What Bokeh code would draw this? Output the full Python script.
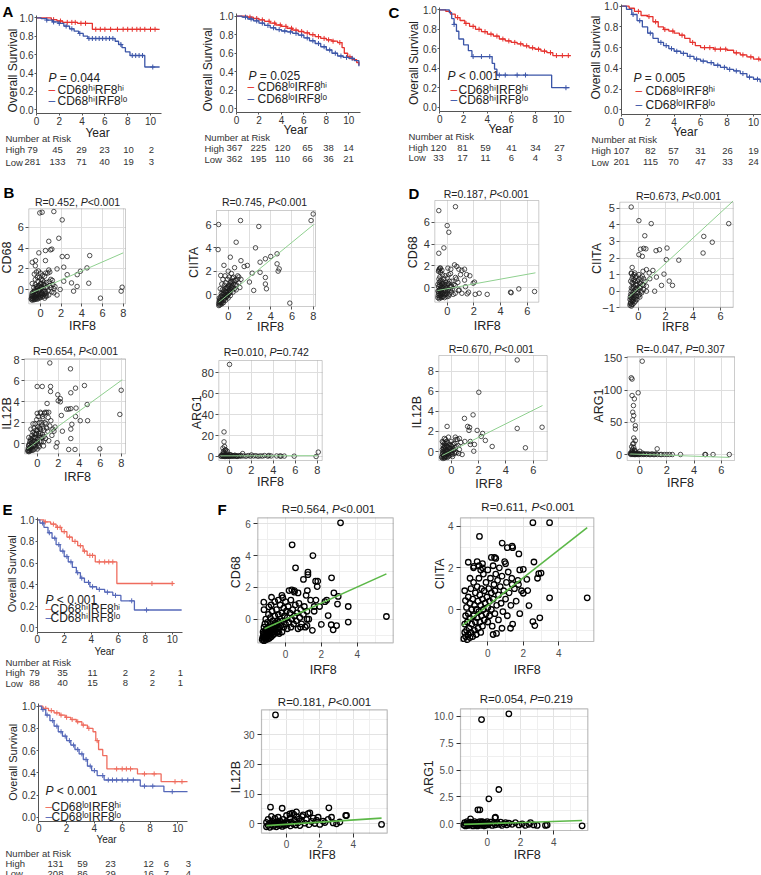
import numpy as np
from bokeh.plotting import figure
from bokeh.models import Range1d, FixedTicker, PrintfTickFormatter, Label, BoxAnnotation
from bokeh.layouts import row, column
from bokeh.embed import file_html
from bokeh.resources import INLINE

FONT = "Liberation Sans"
HI = "\u02b0\u2071"
LO = "\u02e1\u1d52"

# ================= Kaplan-Meier data =================
km_ticks_x = [0, 2, 4, 6, 8, 10]
km_ticks_y = [0.0, 0.2, 0.4, 0.6, 0.8, 1.0]

a1_hi_t = [0, 1.3, 1.8, 2.3, 3.6, 4.9, 10.8]
a1_hi_s = [1.0, 0.98, 0.965, 0.95, 0.94, 0.875, 0.875]
a1_hi_c = [1.5, 2.1, 2.7, 3.1, 3.4, 3.9, 4.3, 5.2, 5.6, 6.0, 6.5, 7.1, 7.6, 8.0, 8.4, 8.8, 9.1, 9.5, 10.0, 10.4]
a1_lo_t = [0, 0.4, 0.9, 1.4, 1.9, 2.4, 2.9, 3.3, 3.7, 4.1, 4.5, 6.9, 7.2, 7.5, 7.8, 8.2, 9.5, 10.8]
a1_lo_s = [1.0, 0.99, 0.975, 0.955, 0.94, 0.91, 0.88, 0.855, 0.83, 0.80, 0.775, 0.745, 0.71, 0.675, 0.63, 0.59, 0.465, 0.465]
a1_lo_c = [0.9, 1.5, 2.0, 2.6, 3.1, 3.8, 4.6, 4.9, 5.2, 5.5, 5.8, 6.1, 6.4, 6.7, 7.4, 8.4, 8.7, 9.0, 9.3, 10.2]

a2_hi_t = [0, 1.0, 1.5, 2.0, 2.5, 3.0, 3.5, 4.0, 4.5, 5.0, 5.5, 6.0, 6.5, 7.0, 7.5, 8.0, 8.5, 9.0, 9.4, 9.6, 9.9, 10.3, 10.7, 10.9]
a2_hi_s = [1.0, 0.99, 0.975, 0.96, 0.945, 0.925, 0.905, 0.89, 0.87, 0.85, 0.835, 0.82, 0.80, 0.78, 0.76, 0.745, 0.73, 0.715, 0.66, 0.60, 0.56, 0.53, 0.50, 0.47]
a2_hi_c = [1.2, 1.8, 2.3, 2.9, 3.4, 3.9, 4.4, 4.9, 5.3, 5.8, 6.3, 6.8, 7.3, 7.8, 8.2, 8.6, 9.2, 10.1]
a2_lo_t = [0, 0.5, 1.0, 1.5, 2.0, 2.5, 3.0, 3.5, 4.0, 4.5, 5.0, 5.5, 6.0, 6.5, 7.0, 7.5, 8.0, 8.5, 9.0, 9.5, 10.0, 10.5, 10.9]
a2_lo_s = [1.0, 0.99, 0.97, 0.95, 0.925, 0.90, 0.875, 0.855, 0.84, 0.83, 0.815, 0.795, 0.765, 0.735, 0.705, 0.67, 0.635, 0.60, 0.57, 0.555, 0.545, 0.52, 0.46]
a2_lo_c = [0.8, 1.3, 1.8, 2.3, 2.8, 3.3, 3.8, 4.3, 4.8, 5.3, 5.8, 6.3, 6.8, 7.3, 7.8, 8.3, 8.8, 9.3, 9.8, 10.3]

c1_hi_t = [0, 0.5, 0.9, 1.3, 1.7, 2.1, 2.5, 3.0, 3.5, 4.0, 4.5, 5.0, 5.5, 6.0, 6.5, 7.0, 7.5, 8.0, 8.5, 9.0, 9.5, 11.0]
c1_hi_s = [1.0, 0.985, 0.955, 0.92, 0.89, 0.86, 0.83, 0.80, 0.775, 0.75, 0.73, 0.70, 0.68, 0.665, 0.65, 0.63, 0.61, 0.595, 0.575, 0.56, 0.53, 0.53]
c1_hi_c = [1.5, 2.2, 2.8, 3.3, 3.8, 4.3, 4.8, 5.3, 5.8, 6.3, 6.8, 7.3, 7.8, 8.3, 8.8, 9.3, 9.8, 10.3, 10.8]
c1_lo_t = [0, 0.8, 1.0, 1.2, 1.4, 1.6, 2.0, 2.4, 2.7, 4.4, 4.6, 4.8, 9.4, 10.9]
c1_lo_s = [1.0, 0.97, 0.91, 0.85, 0.78, 0.70, 0.64, 0.58, 0.52, 0.45, 0.39, 0.33, 0.20, 0.20]
c1_lo_c = [1.2, 2.8, 3.5, 4.2, 5.0, 5.5, 6.5, 7.2, 10.6]

c2_hi_t = [0, 0.6, 1.0, 1.5, 2.0, 2.4, 2.8, 3.2, 3.6, 4.0, 4.4, 4.8, 5.2, 5.6, 6.0, 7.0, 8.0, 8.5, 9.0, 9.5, 10.0, 10.5, 11.0]
c2_hi_s = [1.0, 0.98, 0.95, 0.91, 0.90, 0.85, 0.80, 0.775, 0.76, 0.74, 0.72, 0.69, 0.65, 0.62, 0.60, 0.585, 0.575, 0.55, 0.53, 0.51, 0.49, 0.48, 0.47]
c2_hi_c = [1.3, 2.1, 2.6, 3.3, 3.9, 4.6, 5.4, 6.3, 6.7, 7.1, 7.5, 7.9, 8.7, 9.2, 9.8, 10.4]
c2_lo_t = [0, 0.4, 0.8, 1.2, 1.6, 2.0, 2.4, 2.8, 3.2, 3.6, 4.0, 4.5, 5.0, 5.5, 6.0, 6.5, 7.0, 7.5, 8.0, 8.5, 9.0, 9.5, 10.0, 10.5, 11.0]
c2_lo_s = [1.0, 0.97, 0.92, 0.86, 0.80, 0.74, 0.69, 0.65, 0.62, 0.59, 0.565, 0.545, 0.515, 0.49, 0.47, 0.455, 0.43, 0.41, 0.39, 0.375, 0.35, 0.315, 0.295, 0.27, 0.26]
c2_lo_c = [0.9, 1.4, 2.2, 3.0, 3.4, 3.8, 4.2, 4.7, 5.2, 5.7, 6.2, 6.8, 7.3, 7.8, 8.2, 8.7, 9.2, 9.7, 10.3]

e1_hi_t = [0, 0.5, 1.0, 1.4, 1.8, 2.2, 2.6, 3.0, 3.4, 3.7, 4.3, 5.9, 10.1]
e1_hi_s = [1.0, 0.98, 0.96, 0.93, 0.89, 0.84, 0.80, 0.76, 0.71, 0.67, 0.61, 0.41, 0.41]
e1_hi_c = [0.6, 1.2, 1.5, 1.7, 2.0, 2.4, 2.8, 3.2, 3.5, 3.9, 4.1, 4.6, 5.0, 5.3, 5.6, 8.5, 10.0]
e1_lo_t = [0, 0.2, 0.5, 0.8, 1.1, 1.4, 1.7, 2.0, 2.3, 2.6, 2.9, 3.2, 3.5, 3.9, 4.4, 5.0, 5.6, 6.2, 7.2, 10.7]
e1_lo_s = [1.0, 0.97, 0.93, 0.88, 0.83, 0.77, 0.71, 0.66, 0.61, 0.56, 0.51, 0.46, 0.42, 0.38, 0.355, 0.33, 0.30, 0.25, 0.165, 0.165]
e1_lo_c = [0.4, 0.9, 1.3, 1.6, 1.9, 2.2, 2.5, 3.0, 3.3, 3.8, 4.1, 4.6, 5.2, 5.8, 7.0, 8.1]

e2_hi_t = [0, 0.3, 0.7, 1.1, 1.5, 1.9, 2.3, 2.7, 3.1, 3.5, 3.9, 4.1, 4.3, 4.6, 4.9, 7.1, 8.8, 10.7]
e2_hi_s = [1.0, 0.98, 0.96, 0.94, 0.92, 0.90, 0.88, 0.86, 0.83, 0.80, 0.77, 0.69, 0.61, 0.555, 0.435, 0.39, 0.32, 0.32]
e2_hi_c = [0.5, 0.9, 1.3, 1.6, 2.0, 2.4, 2.8, 3.2, 3.6, 4.2, 5.6, 6.0, 6.3, 6.6, 7.6, 8.3, 9.8, 10.3]
e2_lo_t = [0, 0.2, 0.5, 0.8, 1.1, 1.4, 1.7, 2.0, 2.3, 2.6, 2.9, 3.2, 3.5, 3.8, 4.2, 4.7, 7.3, 9.0, 10.7]
e2_lo_s = [1.0, 0.97, 0.92, 0.87, 0.82, 0.77, 0.73, 0.69, 0.65, 0.61, 0.57, 0.52, 0.46, 0.42, 0.375, 0.335, 0.28, 0.23, 0.23]
e2_lo_c = [0.3, 0.6, 1.0, 1.3, 1.6, 1.9, 2.2, 2.5, 2.8, 3.1, 3.4, 3.7, 4.0, 4.6, 5.0, 5.3, 5.6, 6.0, 6.4, 6.8, 7.6, 8.2, 9.6]

# numbers at risk (years 0,2,4,6,8,10)
a1_high = [79, 45, 29, 23, 10, 2]
a1_low = [281, 133, 71, 40, 19, 3]
a2_high = [367, 225, 120, 65, 38, 14]
a2_low = [362, 195, 110, 66, 36, 21]
c1_high = [120, 81, 59, 41, 34, 27]
c1_low = [33, 17, 11, 6, 4, 3]
c2_high = [107, 82, 57, 31, 26, 19]
c2_low = [201, 115, 70, 47, 33, 24]
e1_high = [79, 35, 11, 2, 2, 1]
e1_low = [88, 40, 15, 8, 2, 1]
e2_high = [131, 59, 23, 12, 6, 3]
e2_low = [208, 86, 29, 16, 7, 4]

a1_p = "= 0.044"
a2_p = "= 0.025"
c1_p = "< 0.001"
c2_p = "= 0.005"
e1_p = "< 0.001"
e2_p = "< 0.001"

# ================= Correlation scatter data (IRF8, gene) =================
b1_pts = [(-0.07, 7.37), (0.16, 7.43), (1.29, 7.5), (2.1, 6.7), (1.77, 4.94), (0.8, 4.65), (0.97, 3.83), (1.1, 3.9),
          (0.48, 3.76), (-0.16, 3.54), (-0.8, 2.64), (-0.48, 2.8), (0.48, 2.8), (2.1, 3.19), (2.58, 3.19), (4.76, 3.28),
          (4.5, 2.1), (3.86, 1.78), (3.55, 1.45), (4.67, 0.63), (3.54, 0.32), (5.8, -0.8), (7.9, 0.25), (7.8, -0.13),
          (2.25, 2.17), (1.6, 2.0), (2.58, 1.45), (2.25, 0.82), (3.0, 0.66), (3.2, -0.13), (1.9, 0.03), (1.29, -0.29),
          (0.5, -0.6), (0.8, 1.9), (0.5, 1.6), (-0.5, 2.3),
          (-0.9, -0.9), (-0.85, -0.6), (-0.8, -1.0), (-0.8, -0.3), (-0.75, -0.7), (-0.7, -0.2), (-0.7, -0.9), (-0.65, 0.2),
          (-0.6, -0.5), (-0.6, -0.95), (-0.55, 0.0), (-0.5, -0.7), (-0.5, 0.5), (-0.45, -0.3), (-0.4, -0.85), (-0.4, 0.3),
          (-0.35, -0.5), (-0.3, 0.1), (-0.3, -0.9), (-0.25, 0.8), (-0.2, -0.6), (-0.2, 0.4), (-0.15, -0.2), (-0.1, 1.2),
          (-0.1, -0.8), (-0.05, 0.0), (0.0, -0.5), (0.0, 0.6), (0.05, 1.0), (0.1, -0.3), (0.1, 0.3), (0.15, -0.7),
          (0.2, 0.9), (0.25, -0.1), (0.3, 0.5), (0.35, -0.4), (0.4, 1.3), (0.45, 0.2), (0.5, -0.2), (0.6, 0.7),
          (0.7, 1.6), (0.8, -0.5), (0.9, 0.4), (1.0, 1.0), (1.1, -0.2), (1.2, 0.5), (1.3, 0.1), (-0.6, 1.5),
          (-0.4, 1.7), (-0.2, 1.8), (0.0, 1.6), (0.2, 1.4), (0.4, -0.8), (-0.8, 0.6), (-0.5, 1.0), (-0.3, 1.2),
          (0.6, -0.6), (0.9, 1.7), (1.4, 0.3), (1.6, -0.5),
          (-0.88, -0.8), (-0.82, -0.45), (-0.78, -0.85), (-0.72, -0.55), (-0.68, -0.35), (-0.62, -0.75), (-0.58, -0.15),
          (-0.52, -0.9), (-0.48, -0.45), (-0.42, -0.05), (-0.38, -0.7), (-0.32, -0.35), (-0.28, 0.25), (-0.22, -0.75),
          (-0.18, -0.05), (-0.12, -0.4), (-0.08, 0.35), (-0.02, -0.7), (0.02, 0.15), (0.08, -0.5), (0.12, 0.6),
          (0.18, -0.35), (0.22, 0.15), (0.28, -0.6), (0.32, 0.75), (0.38, -0.15), (0.42, 0.45), (0.55, -0.35),
          (0.65, 0.25), (0.75, -0.1), (0.85, 0.8), (1.0, 0.2), (1.15, 0.9)]
b1_fit_x = [-0.95, 8.0]
b1_fit_y = [-0.33, 3.54]

b2_pts = [(8.0, 6.9), (7.8, 6.34), (1.16, 6.34), (-0.9, 6.0), (2.88, 5.83), (0.75, 4.48), (-0.95, 3.85), (2.57, 4.0),
          (4.0, 3.26), (4.6, 3.49), (3.5, 3.06), (3.0, 2.77), (1.8, 2.49), (1.5, 2.4), (2.26, 1.83), (3.0, 1.9),
          (3.5, 1.46), (4.6, 2.63), (4.8, 2.2), (4.7, 2.0), (5.8, -0.74), (3.5, 0.9), (3.6, 0.49), (2.4, 0.35),
          (2.0, 1.07), (1.2, 2.9), (0.2, 3.2), (-0.4, 2.5), (-0.7, 1.63), (0.5, 1.48), (1.0, 1.5),
          (-0.9, -0.8), (-0.85, -0.6), (-0.8, -0.9), (-0.8, -0.4), (-0.7, -0.7), (-0.7, -0.2), (-0.65, 0.1), (-0.6, -0.8),
          (-0.6, -0.5), (-0.55, 0.4), (-0.5, -0.3), (-0.5, 0.0), (-0.45, -0.7), (-0.4, 0.3), (-0.4, -0.4), (-0.35, 0.8),
          (-0.3, -0.1), (-0.3, 0.5), (-0.25, -0.5), (-0.2, 0.2), (-0.2, 1.0), (-0.15, -0.2), (-0.1, 0.6), (-0.1, 0.0),
          (-0.05, 1.3), (0.0, 0.3), (0.0, -0.3), (0.05, 0.8), (0.1, 0.1), (0.1, 1.5), (0.15, 0.5), (0.2, -0.1),
          (0.25, 1.1), (0.3, 0.4), (0.35, 0.7), (0.4, 1.4), (0.45, 0.2), (0.5, 0.9), (0.6, 0.5), (0.7, 1.2),
          (0.8, 0.8), (0.9, 1.6), (1.0, 1.0), (1.1, 0.6), (1.2, 1.3), (-0.85, -0.3), (-0.75, 0.5), (-0.6, 0.9),
          (-0.5, 1.3), (-0.3, 1.6), (0.0, 2.0), (0.3, 1.8), (0.6, 2.3),
          (-0.88, -0.95), (-0.82, -0.7), (-0.78, -0.5), (-0.72, -0.85), (-0.68, -0.45), (-0.62, -0.1), (-0.58, -0.65),
          (-0.52, -0.2), (-0.48, 0.15), (-0.42, -0.5), (-0.38, 0.05), (-0.32, -0.3), (-0.28, 0.3), (-0.22, -0.2),
          (-0.18, 0.6), (-0.12, 0.15), (-0.08, -0.1), (-0.02, 0.55), (0.02, 0.0), (0.08, 0.7), (0.12, 0.3),
          (0.18, 1.0), (0.22, 0.2), (0.28, 0.9), (0.32, 0.6), (0.38, 1.1), (0.45, 0.5), (0.55, 1.2), (0.65, 0.8),
          (0.75, 0.4), (0.85, 1.3)]
b2_fit_x = [-0.88, 8.05]
b2_fit_y = [-0.66, 6.0]

b3_pts = [(1.2, 7.7), (3.17, 7.14), (0.0, 5.46), (0.48, 5.46), (1.27, 5.46), (1.27, 4.98), (4.5, 5.55), (3.65, 5.3),
          (3.2, 4.86), (1.96, 4.67), (2.2, 4.3), (2.2, 4.0), (2.0, 4.1), (4.76, 3.74), (3.7, 3.4), (3.0, 3.3),
          (3.2, 3.35), (2.8, 3.3), (0.94, 3.84), (1.1, 3.0), (0.74, 3.0), (0.5, 2.6), (2.3, 2.7), (3.65, 2.6),
          (4.1, 2.2), (4.8, 2.2), (3.2, 1.4), (3.3, 1.86), (7.87, 2.8), (8.0, 5.1), (5.96, -0.48), (3.6, -0.54),
          (3.0, -0.54), (3.2, 0.5), (1.9, 0.1), (1.8, -0.3), (1.6, 1.2), (1.7, 1.6), (2.4, 1.2),
          (-0.9, -0.7), (-0.85, -0.4), (-0.8, -0.75), (-0.8, -0.1), (-0.75, -0.5), (-0.7, 0.2), (-0.7, -0.7), (-0.65, -0.3),
          (-0.6, 0.5), (-0.6, -0.6), (-0.55, 0.0), (-0.5, -0.4), (-0.5, 0.8), (-0.45, 0.3), (-0.4, -0.6), (-0.4, 1.1),
          (-0.35, -0.2), (-0.3, 0.6), (-0.3, 1.5), (-0.25, -0.5), (-0.2, 0.2), (-0.2, 1.9), (-0.15, 0.9), (-0.1, -0.3),
          (-0.1, 1.3), (-0.05, 2.3), (0.0, 0.4), (0.0, -0.5), (0.05, 1.6), (0.1, 0.0), (0.1, 2.6), (0.15, 1.0),
          (0.2, -0.3), (0.2, 2.0), (0.25, 0.6), (0.3, 1.4), (0.35, 2.9), (0.4, 0.2), (0.45, 1.8), (0.5, 0.9),
          (0.55, 2.4), (0.6, -0.2), (0.65, 1.3), (0.7, 2.9), (0.8, 0.5), (0.85, 1.9), (0.9, 3.0), (1.0, 1.2),
          (1.05, 2.5), (1.1, 0.3), (1.2, 1.7), (1.3, 2.2), (1.4, 0.8), (1.5, 1.4), (-0.6, 1.4), (-0.4, 1.9),
          (0.0, 2.9), (0.3, 3.0), (-0.8, 0.6), (0.6, 0.2),
          (-0.88, -0.6), (-0.82, -0.2), (-0.78, -0.65), (-0.72, 0.0), (-0.68, -0.45), (-0.62, 0.35), (-0.58, -0.3),
          (-0.52, 0.1), (-0.48, -0.6), (-0.42, 0.55), (-0.38, -0.2), (-0.32, 0.25), (-0.28, 0.95), (-0.22, -0.1),
          (-0.18, 0.6), (-0.12, 0.1), (-0.08, 1.0), (-0.02, 0.2), (0.02, 1.3), (0.08, 0.5), (0.12, -0.2),
          (0.18, 0.8), (0.22, 1.5), (0.28, 0.2), (0.32, 1.0), (0.38, 2.0), (0.45, 0.6), (0.55, 1.5), (0.65, 0.7),
          (0.75, 2.0), (0.9, 1.5)]
b3_fit_x = [-0.95, 8.1]
b3_fit_y = [-0.48, 6.1]

b4_pts = [(0.0, 88.0), (-0.5, 23.5), (-0.5, 14.0), (-0.45, 9.5), (-0.4, 6.3), (-0.55, 4.8), (-0.35, 6.3), (-0.6, 8.0),
          (-0.3, 4.0), (-0.2, 5.0),
          (-0.8, 0.5), (-0.7, 1.5), (-0.6, 0.2), (-0.6, 2.5), (-0.5, 0.8), (-0.5, 3.5), (-0.45, 0.1), (-0.4, 1.2),
          (-0.35, 0.4), (-0.3, 2.0), (-0.25, 0.6), (-0.2, 0.1), (-0.15, 1.0), (-0.1, 0.3), (0.0, 0.8), (0.0, 0.1),
          (0.1, 1.5), (0.2, 0.4), (0.3, 0.9), (0.4, 0.2), (0.5, 1.2), (0.6, 0.5), (0.7, 0.1), (0.8, 0.8),
          (0.9, 0.3), (1.0, 1.0), (1.1, 0.4), (1.2, 2.8), (1.3, 0.6), (1.5, 0.2), (1.7, 0.9), (1.9, 0.3),
          (2.0, 1.5), (2.2, 0.5), (2.4, 0.8), (2.6, 0.2), (2.8, 0.6), (3.0, 0.4), (3.2, 0.9), (3.5, 0.3),
          (3.6, 1.0), (3.8, 0.5), (4.3, 0.5), (4.6, 0.5), (4.7, 0.3), (5.0, 0.4), (5.9, 0.3), (7.9, 0.0), (8.1, 4.2),
          (-0.75, 0.2), (-0.65, 0.9), (-0.55, 0.3), (-0.45, 1.8), (-0.35, 0.1), (-0.25, 1.4), (-0.05, 0.5), (0.05, 1.8),
          (0.15, 0.2), (0.35, 0.5), (0.45, 0.9), (0.65, 0.2)]
b4_fit_x = [-0.82, 8.05]
b4_fit_y = [0.6, 0.8]

d1_pts = [(-0.63, 7.06), (0.62, 7.42), (0.0, 5.69), (0.12, 5.08), (-0.25, 3.65), (-0.63, 3.16), (-0.55, 1.8), (-0.63, 1.6),
          (0.05, 1.8), (0.27, 1.7), (0.72, 1.95), (0.55, 2.1), (0.87, 1.7), (1.1, 1.6), (1.3, 1.7), (1.45, 1.21),
          (1.7, 1.1), (1.0, 1.2), (0.62, 0.95), (1.3, 0.7), (0.12, 1.2), (1.95, 0.42), (2.05, 0.52), (1.5, -0.55),
          (1.1, -0.5), (0.85, -0.25), (1.6, -0.4), (2.1, -0.6), (2.4, -0.5), (3.0, -0.6), (4.75, -0.4), (4.8, -0.45),
          (5.37, -0.1), (6.55, -0.34), (0.6, 0.2), (0.8, 0.5), (1.37, 0.1), (0.3, 0.1),
          (-0.7, -0.9), (-0.65, -0.5), (-0.65, 0.1), (-0.6, -1.0), (-0.6, -0.2), (-0.6, 0.5), (-0.55, -0.7), (-0.55, 1.0),
          (-0.5, -0.4), (-0.5, 0.2), (-0.5, 1.4), (-0.45, -0.9), (-0.45, 0.7), (-0.4, -0.1), (-0.4, -0.6), (-0.35, 0.4),
          (-0.35, 1.2), (-0.3, -0.8), (-0.3, 0.0), (-0.25, 0.8), (-0.25, -0.4), (-0.2, 0.3), (-0.2, -0.9), (-0.15, -0.2),
          (-0.15, 1.1), (-0.1, 0.5), (-0.1, -0.6), (-0.05, 0.0), (0.0, -0.8), (0.0, 0.9), (0.05, -0.3), (0.1, 0.4),
          (0.15, -0.6), (0.2, 0.1), (0.25, 1.3), (0.3, -0.4), (0.35, 0.6), (0.4, -0.1), (0.5, 0.3), (0.6, -0.5),
          (-0.6, 1.7), (-0.5, 1.8), (-0.65, 1.5), (0.7, 0.8), (0.9, -0.2), (-0.4, 1.6), (-0.7, 0.3), (-0.7, -0.3),
          (-0.68, -0.7), (-0.62, -0.35), (-0.58, -0.85), (-0.58, 0.25), (-0.52, -0.55), (-0.52, 0.6), (-0.48, -0.2),
          (-0.48, -0.75), (-0.42, 0.35), (-0.42, -0.35), (-0.38, -0.85), (-0.38, 0.1), (-0.32, -0.5), (-0.32, 0.55),
          (-0.28, -0.2), (-0.22, -0.65), (-0.18, 0.05), (-0.12, -0.35), (-0.08, 0.25), (-0.02, -0.55), (0.02, 0.35),
          (0.08, -0.15), (0.12, -0.75), (0.18, 0.6), (0.25, -0.2), (0.35, 0.1), (0.45, -0.6), (-0.62, 0.8),
          (-0.55, -0.15), (-0.45, 0.0)]
d1_fit_x = [-0.73, 6.62]
d1_fit_y = [-0.25, 1.37]

d2_pts = [(-0.51, 5.07), (0.05, 4.25), (0.95, 4.07), (0.48, 3.34), (0.17, 2.53), (0.4, 2.58), (0.56, 2.55), (0.05, 2.2),
          (0.3, 2.1), (1.3, 2.44), (1.55, 2.5), (2.1, 2.6), (2.05, 1.9), (2.96, 1.87), (4.78, 3.3), (5.4, 2.95),
          (4.73, 2.3), (6.6, 4.07), (1.88, 1.03), (1.07, 1.25), (1.33, 0.85), (0.6, 1.3), (0.8, 1.1), (2.26, 0.61),
          (2.5, 0.35), (1.7, 0.35), (1.2, 0.0), (-0.44, 1.43), (-0.5, 1.06), (-0.2, 0.82), (0.6, 0.3), (0.85, 0.75),
          (0.4, 0.75),
          (-0.6, -0.85), (-0.6, -0.5), (-0.55, -0.7), (-0.55, -0.2), (-0.5, -0.9), (-0.5, -0.4), (-0.5, 0.2), (-0.45, -0.6),
          (-0.45, 0.5), (-0.4, -0.8), (-0.4, -0.1), (-0.4, 0.9), (-0.35, -0.5), (-0.35, 0.3), (-0.3, -0.7), (-0.3, 0.0),
          (-0.3, 0.7), (-0.25, -0.3), (-0.25, 1.1), (-0.2, -0.6), (-0.2, 0.4), (-0.15, -0.1), (-0.15, 0.9), (-0.1, -0.5),
          (-0.1, 0.2), (-0.05, 0.6), (0.0, -0.3), (0.0, 0.1), (0.05, 1.0), (0.1, -0.2), (0.1, 0.5), (0.15, 0.2),
          (0.2, 0.8), (0.25, -0.1), (0.3, 0.4), (0.35, 1.2), (0.4, 0.1), (0.5, 0.6), (-0.5, 1.1), (-0.55, 0.6), (0.6, 0.0),
          (-0.58, -0.75), (-0.58, -0.35), (-0.52, -0.55), (-0.52, 0.0), (-0.48, -0.25), (-0.48, -0.8), (-0.42, -0.45),
          (-0.42, 0.15), (-0.38, -0.6), (-0.38, 0.5), (-0.32, -0.4), (-0.32, 0.2), (-0.28, -0.15), (-0.22, -0.45),
          (-0.22, 0.6), (-0.18, 0.1), (-0.12, -0.3), (-0.08, 0.4), (-0.02, -0.1), (0.02, 0.7), (0.08, 0.25),
          (0.12, -0.35), (0.18, 0.45), (0.22, 0.0), (0.3, 0.9), (0.4, 0.35), (-0.45, 0.75), (-0.3, 1.0)]
d2_fit_x = [-0.69, 6.92]
d2_fit_y = [-0.37, 5.43]

d3_pts = [(4.83, 9.12), (2.02, 5.9), (1.6, 3.65), (0.97, 3.3), (1.2, 2.5), (1.35, 2.4), (1.3, 2.1), (-0.3, 2.5),
          (1.9, 2.1), (4.83, 2.3), (6.65, 2.42), (2.3, 1.8), (2.2, 1.5), (2.5, 1.1), (3.0, 0.5), (5.43, 0.37),
          (1.4, 1.0), (1.0, 1.0), (0.6, 1.3), (0.3, 1.43), (-0.2, 1.43), (1.65, 0.03), (1.4, 0.7), (1.7, 0.7),
          (-0.7, -0.6), (-0.65, -0.3), (-0.65, 0.2), (-0.6, -0.7), (-0.6, 0.0), (-0.6, 0.6), (-0.55, -0.4), (-0.55, 0.3),
          (-0.5, -0.6), (-0.5, -0.1), (-0.5, 0.8), (-0.45, 0.4), (-0.45, -0.5), (-0.4, 0.0), (-0.4, 1.2), (-0.35, -0.3),
          (-0.35, 0.6), (-0.3, -0.6), (-0.3, 0.2), (-0.25, 0.9), (-0.25, -0.2), (-0.2, 0.4), (-0.2, -0.5), (-0.15, 0.0),
          (-0.1, 0.7), (-0.1, -0.4), (-0.05, 0.3), (0.0, -0.2), (0.0, 1.0), (0.05, 0.5), (0.1, -0.5), (0.15, 0.1),
          (0.2, 0.8), (0.25, -0.2), (0.3, 0.4), (0.35, 1.2), (0.4, -0.1), (0.5, 0.6), (0.6, 0.2), (0.7, 0.9),
          (0.8, -0.3), (-0.65, 1.0), (-0.5, 1.3), (0.45, 1.2),
          (-0.68, -0.5), (-0.62, -0.15), (-0.58, -0.55), (-0.58, 0.35), (-0.52, -0.35), (-0.52, 0.1), (-0.48, -0.65),
          (-0.48, 0.5), (-0.42, -0.2), (-0.42, 0.25), (-0.38, -0.5), (-0.38, 0.8), (-0.32, 0.0), (-0.28, -0.35),
          (-0.28, 0.5), (-0.22, 0.1), (-0.18, -0.25), (-0.12, 0.35), (-0.08, -0.1), (-0.02, 0.6), (0.02, 0.1),
          (0.08, -0.3), (0.12, 0.7), (0.18, 0.25), (0.28, -0.05), (0.38, 0.5), (0.55, -0.2), (-0.6, 0.9), (-0.35, 1.0)]
d3_fit_x = [-0.66, 6.68]
d3_fit_y = [-0.4, 4.58]

d4_pts = [(0.18, 144.7), (-0.63, 119.0), (-0.57, 117.0), (-0.12, 95.7), (-0.57, 91.5), (-0.4, 86.3), (-0.47, 75.9),
          (-0.52, 65.6), (-0.45, 60.4), (-0.52, 53.6), (-0.33, 44.8), (-0.33, 39.6), (-0.45, 25.6), (-0.33, 21.5),
          (-0.52, 16.3), (-0.45, 11.1), (-0.37, 7.0), (-0.57, 5.0), (1.28, 8.8), (0.0, 5.0), (-0.6, 12.0), (-0.45, 17.0),
          (-0.7, 2.0), (-0.65, 0.0), (-0.6, 4.0), (-0.6, 1.0), (-0.55, 8.0), (-0.5, 0.0), (-0.5, 3.0), (-0.45, 1.0),
          (-0.4, 6.0), (-0.4, 0.0), (-0.35, 2.0), (-0.3, 0.0), (-0.3, 4.0), (-0.25, 1.0), (-0.2, 0.0), (-0.15, 2.0),
          (-0.1, 0.0), (0.0, 1.0), (0.1, 0.0), (0.2, 2.0), (0.3, 0.0), (0.4, 1.0), (0.5, 0.0), (0.6, 1.0),
          (0.7, 0.0), (0.8, 0.0), (0.9, 1.0), (1.0, 0.0), (1.1, 0.0), (1.2, 1.0), (1.3, 0.0), (1.5, 0.0),
          (1.6, 0.0), (1.8, 0.0), (2.0, 0.0), (2.2, 0.0), (2.4, 0.0), (3.0, 0.0), (4.8, 0.0), (4.85, 0.0),
          (5.4, 0.0), (6.6, 0.0), (-0.68, 1.0), (-0.55, 2.5), (-0.42, 0.5), (-0.28, 1.5), (-0.05, 0.5), (0.25, 0.5)]
d4_fit_x = [-0.7, 6.6]
d4_fit_y = [0.8, -4.5]

f1_pts = [(3.07, 6.06), (0.37, 4.68), (1.53, 4.0), (0.56, 3.23), (1.25, 2.96), (1.25, 2.8), (1.0, 2.5), (1.68, 2.39),
          (1.8, 2.39), (1.77, 2.05), (2.57, 2.6), (0.2, 1.8), (0.35, 1.85), (0.5, 1.8), (1.22, 1.8), (1.15, 1.5),
          (0.7, 1.65), (2.94, 1.43), (2.7, 1.65), (2.3, 1.2), (2.2, 1.1), (1.7, 1.2), (1.6, 0.8), (1.9, 0.8),
          (2.9, 0.95), (3.5, 0.8), (5.63, 0.17), (3.5, -0.18), (2.38, 0.23), (2.0, -0.33), (2.55, -0.35), (2.85, -0.4),
          (2.66, -0.67), (1.2, 0.0), (0.84, -0.5), (1.2, -0.4), (-1.21, 1.07), (-0.78, 1.38), (-0.93, 0.78), (-0.15, 1.35),
          (-0.4, 1.2),
          (-1.3, -1.3), (-1.25, -1.1), (-1.25, -0.8), (-1.2, -1.35), (-1.2, -1.0), (-1.2, -0.5), (-1.15, -1.2), (-1.15, -0.3),
          (-1.1, -1.3), (-1.1, -0.9), (-1.1, 0.0), (-1.05, -1.1), (-1.05, -0.6), (-1.0, -1.25), (-1.0, -0.8), (-1.0, -0.2),
          (-0.95, -1.0), (-0.95, 0.3), (-0.9, -1.2), (-0.9, -0.5), (-0.85, -0.9), (-0.85, 0.1), (-0.8, -1.1), (-0.8, -0.3),
          (-0.75, -0.7), (-0.75, 0.5), (-0.7, -1.0), (-0.7, -0.1), (-0.65, -0.6), (-0.6, -0.9), (-0.6, 0.2), (-0.55, -0.4),
          (-0.5, -0.8), (-0.5, 0.6), (-0.45, -0.1), (-0.4, -0.6), (-0.4, 0.3), (-0.35, -0.9), (-0.3, 0.0), (-0.3, 0.9),
          (-0.25, -0.4), (-0.2, 0.4), (-0.2, -0.8), (-0.15, -0.1), (-0.1, 0.7), (-0.1, -0.5), (-0.05, 0.2), (0.0, -0.3),
          (0.0, 1.1), (0.05, 0.5), (0.1, -0.6), (0.1, 0.1), (0.15, 0.8), (0.2, -0.2), (0.25, 0.4), (0.3, -0.5),
          (0.3, 1.2), (0.35, 0.0), (0.4, 0.6), (0.45, -0.3), (0.5, 0.2), (0.55, 0.9), (0.6, -0.1), (0.65, 0.4),
          (0.7, -0.6), (0.75, 1.0), (0.8, 0.1), (0.85, 0.6), (0.9, -0.3), (1.0, 0.3), (1.05, 0.8), (1.1, -0.5),
          (1.2, 0.5), (1.3, 0.0), (1.4, 1.2), (1.5, -0.7), (1.6, 0.5), (-0.2, 1.5), (-0.6, 1.1), (0.5, 1.7),
          (-1.2, 0.6), (-0.8, 0.9),
          (-1.28, -1.2), (-1.22, -0.9), (-1.18, -1.1), (-1.12, -0.7), (-1.08, -1.15), (-1.02, -0.95), (-0.98, -0.6),
          (-0.92, -0.85), (-0.88, -1.05), (-0.82, -0.65), (-0.78, -0.9), (-0.72, -0.45), (-0.68, -0.8), (-0.62, -0.55),
          (-0.58, -0.25), (-0.52, -0.6), (-0.48, -0.35), (-0.42, -0.8), (-0.38, -0.2), (-0.32, -0.55)]
f1_fit_x = [-1.17, 5.63]
f1_fit_y = [-0.6, 2.85]

f2_pts = [(2.54, 4.17), (3.48, 4.17), (-0.47, 3.51), (0.81, 3.19), (1.37, 3.04), (1.1, 2.97), (1.4, 2.97), (1.75, 2.67),
          (0.38, 2.5), (0.45, 2.45), (1.0, 2.2), (2.6, 2.28), (1.8, 1.9), (2.0, 1.93), (2.87, 1.72), (3.0, 1.75),
          (2.8, 1.5), (2.2, 1.45), (1.73, 1.2), (1.37, 1.2), (2.25, 0.91), (2.0, 0.78), (3.48, 0.56), (5.6, 0.56),
          (2.32, 0.19), (2.93, -0.4), (2.54, -0.58), (2.65, -0.77), (1.28, -0.9), (0.49, -1.15), (-1.1, 2.27), (-0.79, 2.07),
          (-0.5, 2.1), (-0.3, 2.0), (-1.26, 0.43),
          (-1.35, -1.4), (-1.3, -1.1), (-1.3, -0.7), (-1.25, -1.3), (-1.25, -0.3), (-1.2, -1.0), (-1.2, 0.1), (-1.15, -1.45),
          (-1.15, -0.6), (-1.1, -1.2), (-1.1, -0.2), (-1.1, 0.6), (-1.05, -0.9), (-1.0, -1.35), (-1.0, -0.4), (-1.0, 0.3),
          (-0.95, 1.0), (-0.95, -1.1), (-0.9, -0.7), (-0.9, 0.0), (-0.85, -1.3), (-0.85, 0.5), (-0.8, -0.3), (-0.8, 1.3),
          (-0.75, -1.0), (-0.75, 0.2), (-0.7, -0.6), (-0.7, 0.8), (-0.65, -1.2), (-0.65, 0.0), (-0.6, -0.4), (-0.6, 1.1),
          (-0.55, 0.4), (-0.55, -0.9), (-0.5, -0.1), (-0.5, 1.5), (-0.45, -0.6), (-0.45, 0.7), (-0.4, -1.1), (-0.4, 0.2),
          (-0.35, 1.0), (-0.35, -0.3), (-0.3, 0.5), (-0.3, -0.8), (-0.25, 1.7), (-0.25, 0.0), (-0.2, -0.5), (-0.2, 0.9),
          (-0.15, 0.3), (-0.1, -0.2), (-0.1, 1.3), (-0.05, 0.6), (0.0, -0.6), (0.0, 0.1), (0.0, 1.9), (0.05, 1.0),
          (0.1, -0.3), (0.1, 0.4), (0.15, 1.5), (0.2, 0.0), (0.2, 0.8), (0.25, -0.8), (0.3, 0.5), (0.3, 2.1),
          (0.35, 1.2), (0.4, -0.2), (0.4, 0.9), (0.45, 1.7), (0.5, 0.2), (0.55, 1.4), (0.6, -0.5), (0.6, 0.7),
          (0.65, 2.0), (0.7, 1.1), (0.75, 0.3), (0.8, 1.6), (0.85, -0.1), (0.9, 0.9), (0.95, 2.3), (1.0, 0.5),
          (1.05, 1.3), (1.1, -0.3), (1.15, 1.8), (1.2, 0.8), (1.3, 0.2), (1.35, 1.5), (1.4, -0.7), (1.5, 1.0),
          (1.6, 0.4), (1.7, 1.4), (1.8, -0.2), (1.9, 0.9), (-1.3, 0.9), (-1.0, 1.5), (-0.8, 2.0), (-0.3, 2.2),
          (0.3, -1.2), (0.8, -0.9), (-0.6, 2.3), (-0.4, 1.9), (0.2, 2.5)]
f2_fit_x = [-1.44, 5.6]
f2_fit_y = [-0.77, 3.93]

f3_pts = [(-0.66, 36.7), (-0.96, 5.6), (-0.26, 5.25), (2.54, 5.4), (3.55, 2.8), (3.6, 2.8), (5.7, -0.2),
          (-1.2, -1.0), (-1.2, 0.5), (-1.1, -0.5), (-1.1, 1.5), (-1.0, -1.2), (-1.0, 0.2), (-0.9, -0.3), (-0.9, 2.5),
          (-0.85, 0.8), (-0.8, -0.8), (-0.75, 0.3), (-0.7, -0.2), (-0.7, 1.8), (-0.6, -1.0), (-0.6, 0.6), (-0.5, 0.0),
          (-0.5, 2.2), (-0.45, -0.6), (-0.4, 1.0), (-0.35, -0.2), (-0.3, 0.4), (-0.25, -0.9), (-0.2, 1.5), (-0.15, 0.1),
          (-0.1, -0.5), (0.0, 0.8), (0.0, 2.8), (0.05, -0.2), (0.1, 0.4), (0.2, 1.8), (0.25, -0.7), (0.3, 0.6),
          (0.35, 3.6), (0.4, 0.0), (0.45, 3.2), (0.5, 1.2), (0.55, -0.4), (0.6, 2.4), (0.7, 0.3), (0.75, 1.6),
          (0.8, -0.6), (0.9, 0.9), (0.94, 2.46), (1.0, 3.0), (1.1, 0.2), (1.2, 1.4), (1.3, 3.4), (1.35, -0.3),
          (1.5, 0.8), (1.6, 1.9), (1.7, 0.1), (1.8, 1.2), (1.9, 2.2), (2.0, -0.2), (2.2, 0.9), (2.3, 0.4),
          (2.5, 1.5), (2.7, 2.2), (2.8, 0.3), (3.0, 0.0), (3.2, 0.6), (1.4, 3.7), (0.6, 4.0), (0.2, 3.3)]
f3_fit_x = [-1.2, 5.7]
f3_fit_y = [-0.6, 1.9]

f4_pts = [(-0.34, 9.69), (1.3, 10.22), (0.7, 3.19), (0.1, 2.32), (-0.56, 1.3), (-0.44, 1.3), (-1.0, 0.46), (0.5, 0.62),
          (0.47, 0.55), (-0.3, 0.21),
          (-1.4, -0.1), (-1.35, 0.1), (-1.3, -0.2), (-1.25, 0.0), (-1.2, 0.2), (-1.15, -0.15), (-1.1, 0.05), (-1.05, -0.1),
          (-1.0, 0.15), (-0.95, -0.05), (-0.9, 0.1), (-0.85, -0.2), (-0.8, 0.0), (-0.75, 0.2), (-0.7, -0.1), (-0.65, 0.05),
          (-0.6, -0.2), (-0.55, 0.1), (-0.5, -0.05), (-0.45, 0.2), (-0.4, -0.15), (-0.35, 0.0), (-0.3, 0.15), (-0.25, -0.1),
          (-0.2, 0.05), (-0.15, -0.2), (-0.1, 0.1), (-0.05, -0.05), (0.0, 0.2), (0.05, -0.1), (0.1, 0.0), (0.2, 0.15),
          (0.3, -0.15), (0.4, 0.05), (0.5, -0.1), (0.6, 0.1), (0.7, -0.05), (0.8, 0.15), (0.9, -0.15), (1.0, 0.0),
          (1.1, 0.1), (1.2, -0.1), (1.3, 0.05), (1.5, -0.05), (1.7, 0.1), (1.9, -0.1), (2.1, 0.0), (2.3, -0.15),
          (2.5, -0.05), (2.6, 0.1), (2.8, -0.1), (3.0, -0.15), (3.5, -0.15), (3.6, -0.1), (5.7, -0.19)]
f4_fit_x = [-1.4, 5.7]
f4_fit_y = [-0.05, 0.3]

# ================= helpers =================
W = {' ': .278, '.': .278, ',': .278, '=': .584, '<': .584, '-': .333, 'R': .722, 'P': .667}


def tw(s, size):
    return sum(W.get(c, .556) for c in s) * size


class Panel:
    """A figure whose frame fills its whole box; the plot area (axes) sits inside it."""

    def __init__(self, box, area, xcal, ycal):
        L, T, R, B = box
        (xv0, xp0), (xv1, xp1) = xcal
        (yv0, yp0), (yv1, yp1) = ycal
        sx = (xv1 - xv0) / (xp1 - xp0)
        sy = (yv1 - yv0) / (yp1 - yp0)
        self.dx = lambda px: xv0 + (px - xp0) * sx
        self.dy = lambda py: yv0 + (py - yp0) * sy
        fl, ft, fr, fb = area
        self.xb = (self.dx(fl), self.dx(fr))
        self.yb = (self.dy(fb), self.dy(ft))
        self.p = figure(width=R - L, height=B - T,
                        x_range=Range1d(self.dx(L), self.dx(R)),
                        y_range=Range1d(self.dy(B), self.dy(T)),
                        output_backend="svg", toolbar_location=None, title=None,
                        min_border_left=0, min_border_right=0, min_border_top=0, min_border_bottom=0)
        self.p.background_fill_color = "white"
        self.p.border_fill_color = "white"
        self.p.outline_line_color = None

    def text(self, px, py, s, size, align="left", style="normal", angle=0.0, color="#222"):
        self.p.add_layout(Label(x=self.dx(px), y=self.dy(py), text=s, text_font=FONT,
                                text_font_size=f"{size}px", text_align=align, text_baseline="middle",
                                text_font_style=style, angle=angle, text_color=color))

    def runs(self, px, py, parts, size, anchor="left", color="#222"):
        total = sum(tw(s, size) for s, _ in parts)
        x = px - total / 2 if anchor == "center" else px
        for s, st in parts:
            lead = len(s) - len(s.lstrip(" "))
            self.text(x + tw(" " * lead, size), py, s.strip(" "), size, style=st, color=color)
            x += tw(s, size)


def style_axes(P, xt, yt, xb, yb, xminor=(), yminor=(), tick_out=3, standoff=2, size=10, color="#333",
               line=None, tickcol="#444", yfmt=None, grid=None, minor_grid=None):
    p = P.p
    p.xaxis.ticker = FixedTicker(ticks=list(xt), minor_ticks=list(xminor))
    p.yaxis.ticker = FixedTicker(ticks=list(yt), minor_ticks=list(yminor))
    p.xaxis.fixed_location = P.yb[0]
    p.yaxis.fixed_location = P.xb[0]
    p.xaxis.bounds = xb
    p.yaxis.bounds = yb
    for ax in (p.xaxis, p.yaxis):
        ax.major_tick_out = tick_out
        ax.major_tick_in = 0
        ax.minor_tick_out = 0
        ax.minor_tick_in = 0
        ax.major_label_standoff = standoff
        ax.major_label_text_font = FONT
        ax.major_label_text_font_size = f"{size}px"
        ax.major_label_text_color = color
        ax.axis_line_color = line
        ax.major_tick_line_color = tickcol
    if yfmt:
        p.yaxis.formatter = PrintfTickFormatter(format=yfmt)
    if grid is None:
        p.grid.visible = False
    else:
        for g, b, cb in ((p.xgrid, P.xb, P.yb), (p.ygrid, P.yb, P.xb)):
            g.bounds = b
            try:
                g.cross_bounds = cb
            except Exception:
                pass
            g.grid_line_color = grid
            g.minor_grid_line_color = minor_grid


TABLE = 9.5


def km_panel(sp, curves, colors, pval, labels, high, low):
    P = Panel(sp["box"], sp["area"], sp["xcal"], sp["ycal"])
    p = P.p
    style_axes(P, km_ticks_x, km_ticks_y, (0, P.xb[1]), P.yb, tick_out=2, standoff=1, size=10,
               color="#333", line="#555", tickcol="#555", yfmt="%.1f")
    for (t, s, c), col in zip(curves, colors):
        p.step(x=t, y=s, mode="after", line_color=col, line_width=1.3)
        idx = np.searchsorted(np.array(t), np.array(c), side="right") - 1
        p.scatter(x=c, y=list(np.array(s)[idx]), marker="cross", size=5, line_color=col, line_width=1)
    ox, oy = sp["os"]
    P.text(ox, oy, "Overall Survival", sp["os_size"], align="center", angle=np.pi / 2)
    yx, yy, ys = sp["year"]
    P.text(yx, yy, "Year", ys, align="center")
    px_, py_ = sp["p"]
    P.runs(px_, py_, [("P", "italic"), (" " + pval, "normal")], 12)
    sw, tx, lys = sp["leg"]
    for lab, ly, col in zip(labels, lys, colors):
        P.text(sw, ly, "\u2013", 12, color=col)
        P.text(tx, ly, lab, 12)
    nx, ny = sp["nar"]
    P.text(nx, ny, "Number at Risk", TABLE, color="#333")
    ry = sp["rows"]
    P.text(nx, ry[0], "High", TABLE, color="#333")
    P.text(nx, ry[1], "Low", TABLE, color="#333")
    for cx, h, l in zip(sp["cols"], high, low):
        P.text(cx, ry[0], str(h), TABLE, align="center", color="#333")
        P.text(cx, ry[1], str(l), TABLE, align="center", color="#333")
    if "letter" in sp:
        lt, lx, lyy = sp["letter"]
        P.text(lx, lyy, lt, 15, style="bold", color="black")
    return p


def title_parts(r, pv):
    return [("R=" + r + ", ", "normal"), ("P", "italic"), (pv, "normal")]


def scatter_panel(sp, pts, fx, fy, tparts, ylab, gg=False):
    P = Panel(sp["box"], sp["area"], sp["xcal"], sp["ycal"])
    p = P.p
    xs = [a for a, b in pts]
    ys = [b for a, b in pts]
    if gg:
        style_axes(P, sp["xt"], sp["yt"], P.xb, P.yb, sp.get("xm", ()), sp.get("ym", ()), tick_out=4,
                   standoff=3, size=10, color="#4d4d4d", line=None, tickcol="#333", yfmt=sp.get("fmt"),
                   grid="#e3e3e3", minor_grid="#efefef")
        p.scatter(xs, ys, marker="circle", size=5.5, fill_alpha=0, line_color="black", line_width=1.3)
        p.line(fx, fy, line_color="#5cb848", line_width=1.6)
        p.add_layout(BoxAnnotation(left=P.xb[0], right=P.xb[1], bottom=P.yb[0], top=P.yb[1],
                                   fill_alpha=0, line_color="#222", line_width=1.2))
        tsize, lsize = 11.5, 12.5
    else:
        style_axes(P, sp["xt"], sp["yt"], P.xb, P.yb, tick_out=3, standoff=2, size=11, color="#333",
                   line=None, tickcol="#555", grid="#dedede", minor_grid=None)
        p.scatter(xs, ys, marker="circle", size=4.5, fill_alpha=0, line_color="#1a1a1a",
                  line_alpha=0.9, line_width=0.85)
        p.line(fx, fy, line_color="#8fd08f", line_width=1)
        p.add_layout(BoxAnnotation(left=P.xb[0], right=P.xb[1], bottom=P.yb[0], top=P.yb[1],
                                   fill_alpha=0, line_color="#555", line_width=1))
        tsize, lsize = 10.5, 12.5
    tx, ty = sp["title"]
    P.runs(tx, ty, tparts, tsize, anchor="center", color="#222")
    xx, xy = sp["xl"]
    P.text(xx, xy, "IRF8", lsize, align="center")
    yx, yy = sp["yl"]
    P.text(yx, yy, ylab, lsize, align="center", angle=np.pi / 2)
    if "letter" in sp:
        lt, lx, lyy = sp["letter"]
        P.text(lx, lyy, lt, 15, style="bold", color="black")
    return p


RED, BLUE = "#e6322e", "#3b55a8"
RED2, BLUE2 = "#ef6c5e", "#5568b9"

# ================= KM panels =================
A1 = km_panel(dict(box=(0, 0, 185, 168), area=(36, 15, 161, 113), xcal=((0, 36), (10, 150)),
                   ycal=((0, 109.3), (1, 17.3)), os=(12, 70), os_size=12, year=(97, 132, 12),
                   p=(48, 77), leg=(48, 57, [89.5, 100]), nar=(5, 138.3), rows=[149, 161.7],
                   cols=[32, 57, 81, 104, 128, 151], letter=("A", 2, 11)),
              [(a1_hi_t, a1_hi_s, a1_hi_c), (a1_lo_t, a1_lo_s, a1_lo_c)], [RED, BLUE], a1_p,
              ["CD68" + HI + "RF8" + HI, "CD68" + HI + "IRF8" + LO], a1_high, a1_low)

A2 = km_panel(dict(box=(185, 0, 385, 168), area=(236, 13, 360, 112), xcal=((0, 236), (10, 348.3)),
                   ycal=((0, 108.3), (1, 15.7)), os=(207, 69), os_size=12, year=(295, 129, 12),
                   p=(248, 75), leg=(247, 257, [86.7, 98.3]), nar=(204, 136.7), rows=[147.7, 158.5],
                   cols=[234, 258, 282, 307, 328, 348]),
              [(a2_hi_t, a2_hi_s, a2_hi_c), (a2_lo_t, a2_lo_s, a2_lo_c)], [RED, BLUE], a2_p,
              ["CD68" + LO + "IRF8" + HI, "CD68" + LO + "IRF8" + LO], a2_high, a2_low)

C1 = km_panel(dict(box=(385, 0, 580, 168), area=(439.3, 7, 571, 111), xcal=((0, 439.3), (10, 558.3)),
                   ycal=((0, 106.7), (1, 9.3)), os=(413, 62.5), os_size=12, year=(500, 128, 12),
                   p=(447, 75), leg=(450, 458, [89.3, 99]), nar=(408, 136), rows=[147, 157.3],
                   cols=[438, 462, 485, 511, 535, 559], letter=("C", 388, 12)),
              [(c1_hi_t, c1_hi_s, c1_hi_c), (c1_lo_t, c1_lo_s, c1_lo_c)], [RED, BLUE], c1_p,
              ["CD68" + HI + "IRF8" + HI, "CD68" + HI + "IRF8" + LO], c1_high, c1_low)

C2 = km_panel(dict(box=(580, 0, 761, 168), area=(620.7, 4, 761, 114), xcal=((0, 620.7), (10, 753)),
                   ycal=((0, 109.3), (1, 5.7)), os=(595, 57), os_size=12, year=(685, 131.7, 12),
                   p=(633, 77.7), leg=(635, 645, [90, 104.3]), nar=(591, 139.3), rows=[150, 161.7],
                   cols=[621, 650, 673, 700, 727, 753]),
              [(c2_hi_t, c2_hi_s, c2_hi_c), (c2_lo_t, c2_lo_s, c2_lo_c)], [RED, BLUE], c2_p,
              ["CD68" + LO + "IRF8" + HI, "CD68" + LO + "IRF8" + LO], c2_high, c2_low)

E1 = km_panel(dict(box=(0, 500, 200, 690), area=(36.7, 517, 182, 631.7), xcal=((0, 36.7), (10, 171.7)),
                   ycal=((0, 627.3), (1, 519.3)), os=(11.7, 573.3), os_size=11, year=(104, 650.7, 10),
                   p=(45, 599.3), leg=(45, 50, [608.7, 617.3]), nar=(5, 661.7), rows=[672.3, 682.7],
                   cols=[34, 62, 92, 125, 152, 180], letter=("E", 2, 509)),
              [(e1_hi_t, e1_hi_s, e1_hi_c), (e1_lo_t, e1_lo_s, e1_lo_c)], [RED2, BLUE2], e1_p,
              ["CD68" + HI + "IRF8" + HI, "CD68" + HI + "IRF8" + LO], e1_high, e1_low)

E2 = km_panel(dict(box=(0, 690, 200, 875), area=(38.3, 703, 187, 820.7), xcal=((0, 38.3), (10, 177.3)),
                   ycal=((0, 816.7), (1, 705.7)), os=(12, 761.7), os_size=11, year=(106, 839.3, 10),
                   p=(45, 790), leg=(45, 51, [806.7, 816]), nar=(5, 853.3), rows=[863.3, 873.3],
                   cols=[55, 82, 110, 148, 166, 188]),
              [(e2_hi_t, e2_hi_s, e2_hi_c), (e2_lo_t, e2_lo_s, e2_lo_c)], [RED2, BLUE2], e2_p,
              ["CD68" + LO + "IRF8" + HI, "CD68" + LO + "IRF8" + LO], e2_high, e2_low)

# ================= scatter panels =================
B1 = scatter_panel(dict(box=(0, 168, 185, 335), area=(28.3, 208.3, 125, 303.3), xcal=((0, 40), (8, 122.7)),
                        ycal=((0, 289.3), (6, 226.7)), xt=[0, 2, 4, 6, 8], yt=[0, 2, 4, 6],
                        title=(77, 201.7), xl=(82, 325), yl=(6, 257), letter=("B", 3, 192)),
                   b1_pts, b1_fit_x, b1_fit_y, title_parts("0.452", "<0.001"), "CD68")
B2 = scatter_panel(dict(box=(185, 168, 385, 335), area=(216, 210, 315, 306), xcal=((0, 227.7), (8, 312.7)),
                        ycal=((0, 294), (6, 224)), xt=[0, 2, 4, 6, 8], yt=[0, 2, 4, 6],
                        title=(264, 201), xl=(270, 326.7), yl=(193, 262)),
                   b2_pts, b2_fit_x, b2_fit_y, title_parts("0.745", "<0.001"), "CIITA")
D1 = scatter_panel(dict(box=(385, 168, 575, 335), area=(434.3, 200, 538.3, 301.7), xcal=((0, 446.7), (6, 526.7)),
                        ycal=((0, 287.3), (6, 221.7)), xt=[0, 2, 4, 6], yt=[0, 2, 4, 6],
                        title=(485.8, 193), xl=(486.7, 325), yl=(412.7, 251.7), letter=("D", 408, 193)),
                   d1_pts, d1_fit_x, d1_fit_y, title_parts("0.187", "<0.001"), "CD68")
D2 = scatter_panel(dict(box=(575, 168, 761, 335), area=(619.3, 201.7, 732.7, 306.7), xcal=((0, 637.7), (6, 720)),
                        ycal=((0, 290.7), (5, 207.7)), xt=[0, 2, 4, 6], yt=[-1, 0, 1, 2, 3, 4, 5],
                        title=(678, 195), xl=(675, 326.7), yl=(596.7, 258)),
                   d2_pts, d2_fit_x, d2_fit_y, title_parts("0.673", "<0.001"), "CIITA")
B3 = scatter_panel(dict(box=(0, 335, 185, 500), area=(24, 358.3, 125, 453.3), xcal=((0, 36.7), (8, 120.7)),
                        ycal=((0, 443.3), (8, 359.3)), xt=[0, 2, 4, 6, 8], yt=[0, 2, 4, 6, 8],
                        title=(75, 350.7), xl=(77, 476.7), yl=(6, 413)),
                   b3_pts, b3_fit_x, b3_fit_y, title_parts("0.654", "<0.001"), "IL12B")
B4 = scatter_panel(dict(box=(185, 335, 385, 500), area=(218.3, 360, 321.7, 460), xcal=((0, 229), (8, 316.7)),
                        ycal=((0, 456), (80, 372.3)), xt=[0, 2, 4, 6, 8], yt=[0, 20, 40, 60, 80],
                        title=(265.8, 351.7), xl=(270, 481.7), yl=(196.7, 411.7)),
                   b4_pts, b4_fit_x, b4_fit_y, title_parts("0.010", "=0.742"), "ARG1")
D3 = scatter_panel(dict(box=(385, 335, 575, 500), area=(438.3, 355, 546.7, 460), xcal=((0, 450.7), (6, 532.7)),
                        ycal=((0, 451), (8, 370.7)), xt=[0, 2, 4, 6], yt=[0, 2, 4, 6, 8],
                        title=(490.8, 348.3), xl=(488.3, 483.3), yl=(416.7, 411.7)),
                   d3_pts, d3_fit_x, d3_fit_y, title_parts("0.670", "<0.001"), "IL12B")
D4 = scatter_panel(dict(box=(575, 335, 761, 500), area=(626.7, 356, 734, 460), xcal=((0, 639.3), (6, 720.7)),
                        ycal=((0, 454), (150, 357.3)), xt=[0, 2, 4, 6], yt=[0, 50, 100, 150],
                        title=(680, 348.3), xl=(680, 482.7), yl=(598.3, 405)),
                   d4_pts, d4_fit_x, d4_fit_y, title_parts("-0.047", "=0.307"), "ARG1")

F1 = scatter_panel(dict(box=(200, 500, 410, 680), area=(257.3, 517.3, 392.7, 642.3), xcal=((0, 285), (4, 356.7)),
                        ycal=((0, 618.7), (6, 523.3)), xt=[0, 2, 4], xm=[-1, 1, 3, 5], yt=[0, 2, 4, 6],
                        ym=[-1, 1, 3, 5], title=(328, 508), xl=(322.7, 669.3), yl=(235, 571.7),
                        letter=("F", 217, 509)),
                   f1_pts, f1_fit_x, f1_fit_y, title_parts("0.564", "<0.001"), "CD68", gg=True)
F2 = scatter_panel(dict(box=(410, 500, 761, 680), area=(460, 517.3, 593.3, 641), xcal=((0, 487.3), (4, 558.3)),
                        ycal=((0, 609), (4, 525.7)), xt=[0, 2, 4], xm=[-1, 1, 3, 5], yt=[0, 2, 4],
                        ym=[-1, 1, 3], title=(527.5, 506.7), xl=(526.7, 669.3), yl=(439.3, 573.3)),
                   f2_pts, f2_fit_x, f2_fit_y, title_parts("0.611", "<0.001"), "CIITA", gg=True)
F3 = scatter_panel(dict(box=(200, 680, 410, 875), area=(261, 709.3, 386.7, 832.7), xcal=((0, 286), (4, 352.7)),
                        ycal=((0, 823.3), (30, 734.3)), xt=[0, 2, 4], xm=[-1, 1, 3, 5], yt=[0, 10, 20, 30],
                        ym=[5, 15, 25, 35], title=(324, 701.7), xl=(321.7, 854), yl=(235, 776.7)),
                   f3_pts, f3_fit_x, f3_fit_y, title_parts("0.181", "<0.001"), "IL12B", gg=True)
F4 = scatter_panel(dict(box=(410, 680, 761, 875), area=(460, 708.3, 587.3, 830), xcal=((0, 486.7), (4, 553.3)),
                        ycal=((0, 823.3), (10, 715.7)), xt=[0, 2, 4], xm=[-1, 1, 3, 5],
                        yt=[0, 2.5, 5, 7.5, 10], ym=[1.25, 3.75, 6.25, 8.75], fmt="%.1f",
                        title=(525.8, 698.3), xl=(526.7, 854), yl=(428.3, 776.7)),
                   f4_pts, f4_fit_x, f4_fit_y, title_parts("0.054", "=0.219"), "ARG1", gg=True)

layout = column(
    row(A1, A2, C1, C2, spacing=0),
    row(B1, B2, D1, D2, spacing=0),
    row(B3, B4, D3, D4, spacing=0),
    row(column(E1, E2, spacing=0), column(row(F1, F2, spacing=0), row(F3, F4, spacing=0), spacing=0), spacing=0),
    spacing=0)

open("out.html", "w").write(file_html(layout, INLINE))
